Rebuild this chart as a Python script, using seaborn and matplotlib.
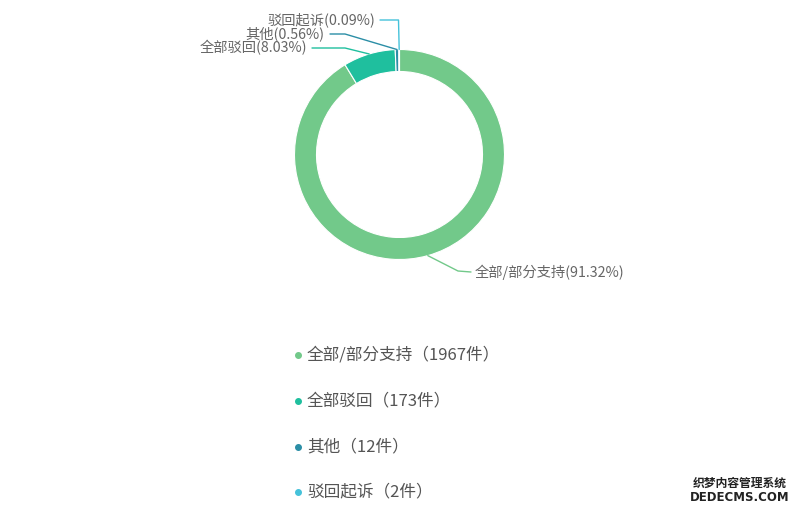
import numpy as np
import matplotlib
matplotlib.use("Agg")
import matplotlib.pyplot as plt
import seaborn as sns

# data
categories = ["全部/部分支持", "全部驳回", "其他", "驳回起诉"]
counts = [1967, 173, 12, 2]
colors = ["#72c98a", "#1fbf9e", "#2b8ea6", "#45c2da"]

sns.set_theme(style="white")
plt.rcParams["font.family"] = ["Noto Sans CJK SC", "DejaVu Sans"]

W, H = 800, 511
fig = plt.figure(figsize=(W / 100, H / 100), dpi=100)
ax = fig.add_axes([0, 0, 1, 1])


def P(x, y):
    # pixel coords (y down) -> data coords
    return x, H - y


cx, cy = 399.5, 154.5
r_out, ring = 105, 22
wedges, _ = ax.pie(counts, colors=colors, startangle=90, counterclock=False,
                   radius=r_out, center=P(cx, cy),
                   wedgeprops=dict(width=ring, edgecolor="white", linewidth=0.8))
# pie resets the limits, so set them afterwards
ax.set_xlim(0, W)
ax.set_ylim(0, H)
ax.set_aspect("equal")
ax.axis("off")

total = sum(counts)
pct = [c / total * 100 for c in counts]

# label layout: (text x, text y, ha, elbow x, elbow y)
layout = [
    (475, 272, "left", 458, 271),
    (307, 48, "right", 345, 48),
    (325, 34, "right", 345, 34),
    (375, 20, "right", 398.5, 20),
]
for w, name, p, col, (tx, ty, ha, ex, ey) in zip(wedges, categories, pct, colors, layout):
    ang = np.deg2rad((w.theta1 + w.theta2) / 2)
    ax_, ay_ = w.center[0] + r_out * np.cos(ang), w.center[1] + r_out * np.sin(ang)
    end_x = tx - 4 if ha == "left" else tx + 5
    ax.plot([ax_, ex, end_x], [ay_, H - ey, H - ty], color=col, lw=1)
    ax.text(*P(tx, ty), f"{name}({p:.2f}%)", ha=ha, va="center",
            fontsize=10.3, color="#666666")

# legend
leg_y = [355, 401, 447, 492]
for name, c, col, y in zip(categories, counts, colors, leg_y):
    ax.scatter(*P(298, y), s=16, color=col, zorder=3)
    ax.text(*P(307, y), f"{name}（{c}件）", ha="left", va="center",
            fontsize=12, color="#555555")

# watermark
ax.text(*P(740, 483), "织梦内容管理系统", ha="center", va="center",
        fontsize=8.5, color="#222222", fontweight="bold")
ax.text(*P(740, 497), "DEDECMS.COM", ha="center", va="center",
        fontsize=8.5, color="#222222", fontweight="bold", family="DejaVu Sans")

fig.savefig("out.png", dpi=100)
